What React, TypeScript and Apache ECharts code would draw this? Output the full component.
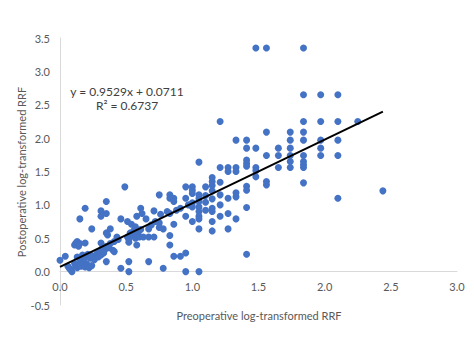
import React, { useEffect, useRef } from "react";
import * as echarts from "echarts";

// Scatter points [preoperative, postoperative] log-transformed RRF
const lowGroup: number[][] = [
  [0.0, 0.17], [0.04, 0.23], [0.06, 0.08], [0.07, 0.05], [0.08, 0.03], [0.09, 0.0],
  [0.11, 0.4], [0.12, 0.43], [0.13, 0.45], [0.14, 0.38], [0.15, 0.42], [0.19, 0.43],
  [0.11, 0.12], [0.12, 0.08], [0.13, 0.06], [0.14, 0.1], [0.15, 0.12], [0.16, 0.08],
  [0.17, 0.15], [0.18, 0.1], [0.19, 0.07], [0.2, 0.12], [0.21, 0.09], [0.22, 0.06], [0.24, 0.09],
  [0.13, 0.22], [0.15, 0.19], [0.17, 0.25], [0.19, 0.21], [0.21, 0.26], [0.23, 0.2],
  [0.24, 0.24], [0.26, 0.18], [0.28, 0.27], [0.29, 0.22], [0.3, 0.31], [0.31, 0.25],
  [0.32, 0.35], [0.33, 0.28], [0.34, 0.33], [0.35, 0.38], [0.37, 0.36], [0.38, 0.42],
  [0.4, 0.32], [0.41, 0.45],
  [0.15, 0.79], [0.19, 0.95], [0.24, 0.64], [0.31, 0.91], [0.31, 0.83], [0.31, 0.43],
  [0.35, 1.05], [0.35, 0.87], [0.35, 0.58], [0.36, 0.55], [0.38, 0.64], [0.35, 0.15],
  [0.43, 0.52], [0.46, 0.79], [0.46, 0.05], [0.49, 1.27], [0.41, 0.3], [0.44, 0.48],
];

const midGroup: number[][] = [
  [0.51, 0.75], [0.51, 0.52], [0.52, 0.48], [0.52, 0.44], [0.52, 0.15], [0.52, 0.0],
  [0.53, 0.58], [0.54, 0.71], [0.55, 0.55], [0.56, 0.62], [0.57, 0.67], [0.57, 0.5],
  [0.58, 0.83], [0.58, 0.4], [0.59, 0.57], [0.6, 0.52], [0.61, 0.95], [0.61, 0.63],
  [0.62, 0.87], [0.63, 0.52], [0.65, 0.79], [0.67, 0.64], [0.67, 0.52], [0.67, 0.15],
  [0.69, 0.7], [0.71, 0.91], [0.71, 0.52], [0.72, 0.75], [0.75, 1.15], [0.75, 0.73],
  [0.75, 0.66], [0.76, 0.86], [0.78, 0.64], [0.78, 0.05], [0.81, 0.9], [0.83, 1.15],
  [0.83, 1.1], [0.83, 0.87], [0.83, 0.54], [0.83, 0.4], [0.86, 1.1], [0.86, 1.05],
  [0.86, 0.71], [0.86, 0.23], [0.88, 0.92], [0.91, 0.95], [0.91, 0.23], [0.95, 1.27],
  [0.95, 1.1], [0.95, 0.83], [0.95, 0.28], [0.95, 0.0], [0.97, 1.0],
];

const upperMidGroup: number[][] = [
  [1.0, 1.27], [1.0, 1.22], [1.0, 1.17], [1.0, 1.03], [1.0, 0.97], [1.0, 0.75],
  [1.05, 1.64], [1.05, 1.15], [1.05, 1.1], [1.05, 1.05], [1.05, 0.97], [1.05, 0.9],
  [1.05, 0.83], [1.05, 0.79], [1.05, 0.64], [1.05, 0.0],
  [1.1, 1.27], [1.1, 1.14], [1.1, 1.04], [1.1, 0.92],
  [1.15, 1.41], [1.15, 1.35], [1.15, 1.29], [1.15, 1.21], [1.15, 1.09], [1.15, 0.95],
  [1.15, 0.9], [1.15, 0.75], [1.15, 0.61],
  [1.21, 2.25], [1.21, 1.56], [1.21, 1.34], [1.21, 1.15], [1.21, 1.0], [1.21, 0.83],
  [1.27, 1.56], [1.27, 1.5], [1.27, 1.1], [1.27, 0.87], [1.27, 0.64],
  [1.33, 1.97], [1.33, 1.56], [1.33, 1.5], [1.33, 1.18], [1.33, 1.12], [1.33, 0.79],
  [1.41, 1.97], [1.41, 1.85], [1.41, 1.67], [1.41, 1.62], [1.41, 1.58], [1.41, 1.28],
  [1.41, 1.22], [1.41, 0.96], [1.41, 0.26],
  [1.48, 3.35], [1.48, 1.85], [1.48, 1.56], [1.48, 1.51], [1.48, 1.42],
];

const highGroup: number[][] = [
  [1.56, 3.35], [1.56, 2.09], [1.56, 1.74], [1.56, 1.35], [1.56, 1.3],
  [1.65, 1.85], [1.65, 1.74], [1.65, 1.56],
  [1.74, 2.09], [1.74, 1.97], [1.74, 1.85], [1.74, 1.74], [1.74, 1.65], [1.74, 1.56],
  [1.84, 3.35], [1.84, 2.65], [1.84, 2.25], [1.84, 2.09], [1.84, 1.97], [1.84, 1.74],
  [1.84, 1.65], [1.84, 1.6], [1.84, 1.56], [1.84, 1.33],
  [1.97, 2.65], [1.97, 2.25], [1.97, 1.97], [1.97, 1.85], [1.97, 1.74],
  [2.1, 2.65], [2.1, 2.25], [2.1, 1.97], [2.1, 1.74], [2.1, 1.1],
  [2.25, 2.25], [2.44, 1.21],
];

// Linear trendline shown on the chart
const slope = 0.9529;
const intercept = 0.0711;
const trendX = [0.0, 2.44];

const xTitle = "Preoperative log-transformed RRF";
const yTitle = "Postoperative log-transformed RRF";
const equationLines = ["y = 0.9529x + 0.0711", "R\u00B2 = 0.6737"];

const FONT = "Lato, 'Liberation Sans', sans-serif";
const GRAY = "#595959";

const GRID_TOP = 38;
const GRID_BOTTOM = 52;
const CHART_H = 357;
const Y_MIN = -0.5;
const Y_MAX = 3.5;

export default function App() {
  const ref = useRef<HTMLDivElement>(null);

  useEffect(() => {
    if (!ref.current) return;
    const chart = echarts.init(ref.current, undefined, { renderer: "svg" });
    const points = [...lowGroup, ...midGroup, ...upperMidGroup, ...highGroup];
    const trend = trendX.map((x) => [x, slope * x + intercept]);
    // place the x axis (line + labels) at y = 0
    const plotH = CHART_H - GRID_TOP - GRID_BOTTOM;
    const zeroOffset = -((0 - Y_MIN) / (Y_MAX - Y_MIN)) * plotH;

    chart.setOption({
      animation: false,
      backgroundColor: "#ffffff",
      textStyle: { fontFamily: FONT },
      grid: { left: 60, right: 17, top: GRID_TOP, bottom: GRID_BOTTOM, containLabel: false },
      xAxis: {
        type: "value",
        min: 0,
        max: 3,
        interval: 0.5,
        offset: zeroOffset,
        axisLine: { show: true, onZero: false, lineStyle: { color: "#d9d9d9", width: 1 } },
        axisTick: { show: false },
        splitLine: { show: false },
        axisLabel: {
          color: GRAY,
          fontSize: 11,
          fontFamily: FONT,
          margin: 9,
          formatter: (v: number) => v.toFixed(1),
        },
      },
      yAxis: {
        type: "value",
        min: Y_MIN,
        max: Y_MAX,
        interval: 0.5,
        axisLine: { show: true, onZero: false, lineStyle: { color: "#d9d9d9", width: 1 } },
        axisTick: { show: false },
        splitLine: { show: false },
        axisLabel: {
          color: GRAY,
          fontSize: 11,
          fontFamily: FONT,
          margin: 10,
          formatter: (v: number) => v.toFixed(1),
        },
      },
      series: [
        {
          type: "scatter",
          data: points,
          symbol: "circle",
          symbolSize: 7,
          itemStyle: { color: "#4472C4", opacity: 1 },
          z: 2,
        },
        {
          type: "line",
          data: trend,
          symbol: "none",
          lineStyle: { color: "#000000", width: 2 },
          z: 3,
        },
      ],
      graphic: [
        {
          type: "text",
          x: 127,
          y: 98,
          style: {
            text: equationLines.join("\n"),
            fill: "#404040",
            fontSize: 12,
            fontFamily: FONT,
            lineHeight: 14,
            align: "center",
            verticalAlign: "middle",
          },
        },
        {
          type: "text",
          x: 259,
          y: 315,
          style: {
            text: xTitle,
            fill: GRAY,
            fontSize: 11,
            fontFamily: FONT,
            align: "center",
            verticalAlign: "middle",
          },
        },
        {
          type: "text",
          x: 21,
          y: 172,
          rotation: Math.PI / 2,
          style: {
            text: yTitle,
            fill: GRAY,
            fontSize: 11,
            fontFamily: FONT,
            align: "center",
            verticalAlign: "middle",
          },
        },
      ],
    });

    return () => chart.dispose();
  }, []);

  return (
    <div
      ref={ref}
      style={{ position: "fixed", left: 0, top: 0, width: 474, height: 357 }}
    />
  );
}
